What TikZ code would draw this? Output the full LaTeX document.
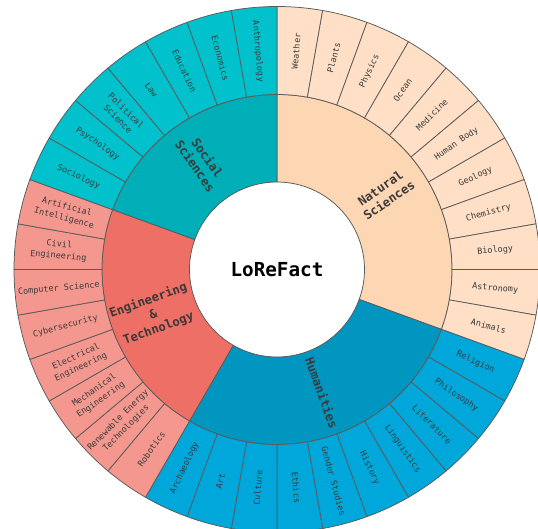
\documentclass[tikz,border=0pt]{standalone}
\usepackage{fontspec}
\setmonofont{DejaVu Sans Mono}
\definecolor{edge}{HTML}{5A5A5A}
\definecolor{txt}{HTML}{3A3A3A}
\definecolor{nsin}{HTML}{FDD6B4}
\definecolor{nsout}{HTML}{FFE0C6}
\definecolor{huin}{HTML}{0096BF}
\definecolor{huout}{HTML}{00A7DA}
\definecolor{enin}{HTML}{EE6F65}
\definecolor{enout}{HTML}{F4988F}
\definecolor{ssin}{HTML}{00AEB8}
\definecolor{ssout}{HTML}{00C1CC}
\newcommand\mysector[5]{%
  \filldraw[fill=#5, draw=edge, line width=0.75pt, line join=round]
    (#1:#3) arc[start angle=#1, end angle=#2, radius=#3] --
    (#2:#4) arc[start angle=#2, end angle=#1, radius=#4] -- cycle;}
\begin{document}
\begin{tikzpicture}[x=1pt,y=1pt,
  outlab/.style={font=\ttfamily\fontsize{8.5}{11.5}\selectfont, text=txt, align=center, inner sep=0pt},
  inlab/.style={font=\ttfamily\bfseries\fontsize{12.3}{15}\selectfont, text=txt, align=center, inner sep=0pt},
  titlelab/.style={font=\ttfamily\bfseries\fontsize{19.3}{22}\selectfont, text=black, inner sep=0pt}]
\useasboundingbox (0,0) rectangle (538,-529);
\fill[white] (0,0) rectangle (538,-529);
\begin{scope}[shift={(277,-269.5)}]
  % inner ring
  \mysector{90}{-20}{87.5}{175}{nsin}
  \mysector{-20}{-120}{87.5}{175}{huin}
  \mysector{-120}{-200}{87.5}{175}{enin}
  \mysector{160}{90}{87.5}{175}{ssin}
  % outer ring
  \foreach \lab [count=\i] in {Weather,Plants,Physics,Ocean,Medicine,Human Body,Geology,Chemistry,Biology,Astronomy,Animals,
    Religion,Philosophy,Literature,Linguistics,History,Gender Studies,Ethics,Culture,Art,Archaeology,
    Robotics,{Renewable Energy\\Technologies},{Mechanical\\Engineering},{Electrical\\Engineering},Cybersecurity,Computer Science,{Civil\\Engineering},{Artificial\\Intelligence},
    Sociology,Psychology,{Political\\Science},Law,Education,Economics,Anthropology}{
    \ifnum\i<12 \def\oc{nsout}\else\ifnum\i<22 \def\oc{huout}\else\ifnum\i<30 \def\oc{enout}\else\def\oc{ssout}\fi\fi\fi
    \pgfmathsetmacro\sa{100-10*\i}
    \pgfmathsetmacro\ea{90-10*\i}
    \pgfmathsetmacro\ma{95-10*\i}
    \pgfmathsetmacro\rt{\ma<-90 ? \ma+180 : \ma}
    \mysector{\sa}{\ea}{175}{263}{\oc}
    \node[outlab, rotate=\rt] (o\i) at (\ma:219) {\lab};
  }
  \node[inlab, rotate=35] (ns) at (35:131.5) {Natural\\Sciences};
  \node[inlab, rotate=-70] (hu) at (-70:131.5) {Humanities};
  \node[inlab, rotate=20] (en) at (-160:131.5) {Engineering\\\&\\Technology};
  \node[inlab, rotate=-55] (ss) at (125:131.5) {Social\\Sciences};
  \node[titlelab] (title) at (0,0) {LoReFact};
\end{scope}
\end{tikzpicture}
\end{document}
